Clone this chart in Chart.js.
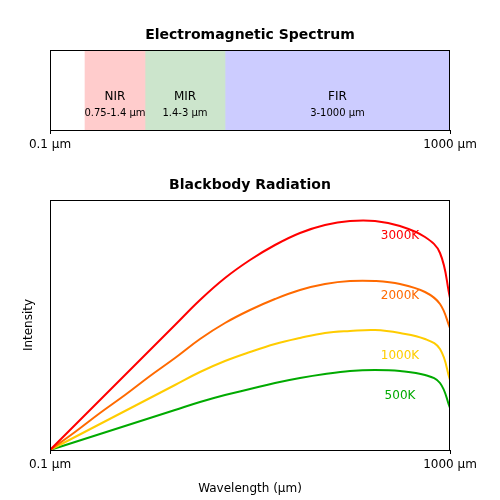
<!DOCTYPE html><html><head><script src="https://cdn.jsdelivr.net/npm/chart.js"></script>
<style>body{margin:0;background:#fff}#a,#b{position:absolute;left:0;width:500px}#a{top:0;height:160px}#b{top:160px;height:340px}</style></head><body>
<div id="a"><canvas id="c1"></canvas></div><div id="b"><canvas id="c2"></canvas></div>
<script>
const bandNames=["NIR","MIR","FIR"];
const bandRanges=["0.75-1.4 µm","1.4-3 µm","3-1000 µm"];
const bandSpans=[[35,95],[95,175],[175,400]];
const bandColors=["#ffcccc","#cce5cc","#ccccff"];
const tickLabels=["0.1 µm","1000 µm"];
const xs=[0,25,50,75,100,125,150,175,200,225,250,275,300,325,350,375,390,400];
const temps=["3000K","2000K","1000K","500K"];
const lineColors=["#ff0000","#ff6a00","#ffcc00","#00aa00"];
const s3000=[0,25,50,75,100,125,150,172,190,205,217,225,229,229,224,213,197,152];
const s2000=[0,18,37,55,74,92,111,127,140,151,160,166,169,169,166,158,146,122];
const s1000=[0,13,26,39,52,65,78,89,98,106,112,117,119,120,117,111,101,70];
const s500=[0,8,16,24,32,40,48,55,61,67,72,76,79,80,79,75,67,42];
const series=[s3000,s2000,s1000,s500];
const F="'DejaVu Sans'";
Chart.defaults.font.family=F;Chart.defaults.color="#000";
const xScale=(h)=>({type:'linear',min:0,max:400,afterBuildTicks:s=>{s.ticks=[{value:0},{value:400}]},
 ticks:{callback:(v)=>v===0?tickLabels[0]:tickLabels[1],maxRotation:0,font:{size:12},color:'#000',padding:4},
 grid:{display:true,drawOnChartArea:false,tickLength:4,color:'#000'},border:{display:false},afterFit:s=>{s.height=h}});
const frame=(title)=>({id:'f',afterDraw(c){const a=c.chartArea,x=c.ctx;x.save();x.strokeStyle='#000';x.lineWidth=1;x.strokeRect(a.left+0.5,a.top+0.5,a.right-a.left-1,a.bottom-a.top);
 x.font="bold 14px "+F;x.fillStyle='#000';x.textAlign='center';x.textBaseline='middle';x.fillText(title,(a.left+a.right)/2,a.top-15);x.restore();}});
new Chart(c1,{type:'bar',data:{labels:['s'],datasets:bandSpans.map((r,i)=>({data:[r],backgroundColor:bandColors[i],grouped:false,barPercentage:1,categoryPercentage:1}))},
 options:{indexAxis:'y',responsive:true,maintainAspectRatio:false,animation:false,layout:{padding:{top:50,left:50,right:50,bottom:0}},
 plugins:{legend:{display:false},tooltip:{enabled:false}},
 scales:{x:xScale(30),y:{display:false}}},
 plugins:[frame("Electromagnetic Spectrum"),{id:'t',afterDatasetsDraw(c){const x=c.ctx,sx=c.scales.x,a=c.chartArea;x.save();x.fillStyle='#000';x.textAlign='center';
  bandSpans.forEach((r,i)=>{const cx=(sx.getPixelForValue(r[0])+sx.getPixelForValue(r[1]))/2;x.font="12px "+F;x.fillText(bandNames[i],cx,a.top+50);x.font="10px "+F;x.fillText(bandRanges[i],cx,a.top+66);});x.restore();}}]});
new Chart(c2,{type:'line',data:{datasets:series.map((s,i)=>({label:temps[i],data:s.map((v,j)=>({x:xs[j],y:v})),borderColor:lineColors[i],borderWidth:2,pointRadius:0,tension:0.4}))},
 options:{responsive:true,maintainAspectRatio:false,animation:false,layout:{padding:{top:40,left:18,right:50,bottom:0}},
 plugins:{legend:{display:false},tooltip:{enabled:false}},
 scales:{x:Object.assign(xScale(50),{title:{display:true,text:'Wavelength (µm)',font:{size:12},padding:{top:8}}}),
  y:{min:0,max:250,ticks:{display:false},grid:{display:false},border:{display:false},title:{display:true,text:'Intensity',font:{size:12}},afterFit:s=>{s.width=32}}}},
 plugins:[frame("Blackbody Radiation"),{id:'l',afterDatasetsDraw(c){const x=c.ctx,sx=c.scales.x,sy=c.scales.y;x.save();x.font="12px "+F;x.textAlign='center';x.textBaseline='middle';
  const ly=[214,154,94,54];temps.forEach((t,i)=>{x.fillStyle=lineColors[i];x.fillText(t,sx.getPixelForValue(350),sy.getPixelForValue(ly[i]));});x.restore();}}]});
</script></body></html>
